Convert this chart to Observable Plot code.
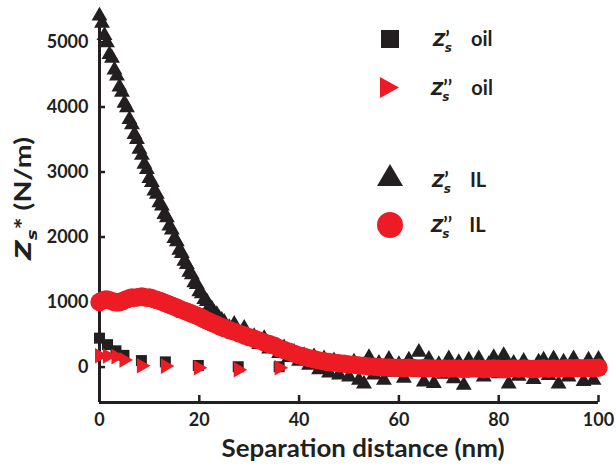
<!DOCTYPE html>
<html><head><meta charset="utf-8">
<script src="https://cdn.jsdelivr.net/npm/d3@7"></script>
<script src="https://cdn.jsdelivr.net/npm/@observablehq/plot@0.6"></script>
<style>
html,body{margin:0;padding:0;background:#fff;}
#wrap{position:relative;width:616px;height:466px;overflow:hidden;}
#legend{position:absolute;left:0;top:0;pointer-events:none;}
</style></head><body><div id="wrap"></div>
<script>
// ---- data ----
const ilDistance = [0,0.5,1,1.5,2,2.5,3,3.5,4,4.5,5,5.5,6,6.5,7,7.5,8,8.5,9,9.5,10,10.5,11,11.5,12,12.5,13,13.5,14,14.5,15,15.5,16,16.5,17,17.5,18,18.5,19,19.5,20,20.5,21,21.5,22,22.5,23,23.5,24,24.5,25,
26,27,28,29,30,31,32,33,34,35,36,37,38,39,40,41,42,43,44,45,46,47,48,49,50,
51,52,53,54,55,56,57,58,59,60,61,62,63,64,65,66,67,68,69,70,71,72,73,74,75,
76,77,78,79,80,81,82,83,84,85,86,87,88,89,90,91,92,93,94,95,96,97,98,99,100];
const ilZ1 = [5400,5290,5100,4990,4810,4750,4570,4480,4310,4230,4060,3990,3810,3730,3580,3500,3350,3260,3120,3040,2900,2840,2710,2660,2530,2480,2350,2300,2170,2110,1980,1930,1800,1750,1630,1580,1460,1420,1300,1270,1160,1130,1040,1010,930,900,830,810,750,720,690,
610,660,520,600,420,470,350,440,280,330,210,300,150,230,90,180,30,160,-40,130,-90,100,-120,40,-150,
80,-200,-260,150,-120,60,-200,120,-80,40,-170,110,-40,230,-230,120,-250,40,-110,130,-180,70,-280,110,-60,
130,-150,40,150,-100,180,-260,60,-140,90,-40,-190,80,110,-130,130,-260,80,-150,130,-70,-220,110,-200,120];
const ilZ2 = [1000,1020,1035,1040,1030,1015,1000,995,1000,1010,1030,1045,1060,1070,1065,1070,1080,1085,1075,1065,1070,1060,1045,1030,1020,1005,990,975,960,945,930,915,895,880,865,850,835,820,805,790,775,755,735,715,700,680,665,650,630,615,600,
570,545,515,490,460,435,410,380,355,330,290,262,235,205,180,158,138,120,103,90,78,68,58,50,40,
35,25,20,10,5,0,-5,-5,-10,-10,-15,-10,-15,-20,-15,-20,-20,-25,-20,-25,-20,-25,-30,-25,-20,
-25,-30,-25,-20,-25,-30,-25,-20,-25,-20,-25,-30,-25,-20,-25,-20,-25,-20,-15,-20,-15,-20,-15,-15,-10];
const oilDistance = [0, 1.6, 3.3, 4.9, 8.4, 13.2, 19.8, 27.8, 36];
const oilZ1 = [445, 345, 250, 180, 100, 80, 25, 5, 5];
const oilZ2 = [175, 170, 160, 110, 20, 15, -10, -40, -10];
const xTicks = [0, 20, 40, 60, 80, 100];
const yTicks = [0, 1000, 2000, 3000, 4000, 5000];
const xDomain = [0, 100];
const yDomain = [-545, 5500];

const ink = "#231f20";
const red = "#ed1c24";
const font = "Lato, 'Liberation Sans', sans-serif";
const italicFont = "'DejaVu Sans', sans-serif";
const il = ilDistance.map((d, i) => ({d, z1: ilZ1[i], z2: ilZ2[i]}));
const oil = oilDistance.map((d, i) => ({d, z1: oilZ1[i], z2: oilZ2[i]}));

const triRight = {draw(ctx, size) {
  const s = Math.sqrt(size * 4 / Math.sqrt(3));
  const h = s * Math.sqrt(3) / 2;
  ctx.moveTo(2 * h / 3, 0); ctx.lineTo(-h / 3, -s / 2); ctx.lineTo(-h / 3, s / 2); ctx.closePath();
}};

const chart = Plot.plot({
  width: 616, height: 466,
  marginLeft: 99, marginRight: 18, marginTop: 9, marginBottom: 64,
  x: {domain: xDomain},
  y: {domain: yDomain},
  style: {fontFamily: font, fontWeight: "bold", fontSize: "18px", color: ink, background: "#fff"},
  marks: [
    Plot.ruleY([yDomain[0]], {stroke: ink, strokeWidth: 3}),
    Plot.ruleX([xDomain[0]], {stroke: ink, strokeWidth: 3}),
    Plot.axisX(xTicks, {tickSize: -7, fill: "none", stroke: ink, strokeWidth: 2.5, label: null}),
    Plot.axisY(yTicks, {tickSize: -6, fill: "none", stroke: ink, strokeWidth: 2.5, label: null}),
    Plot.axisX(xTicks, {tickSize: 0, tickPadding: 11, fill: ink, label: null}),
    Plot.axisY(yTicks, {tickSize: 0, tickPadding: 11, fill: ink, label: null, tickFormat: d => String(d)}),
    Plot.dot(il, {x: "d", y: "z1", symbol: "triangle", r: 5.9, fill: ink}),
    Plot.dot(il, {x: "d", y: "z2", symbol: "circle", r: 9.2, fill: red}),
    Plot.dot(oil, {x: "d", y: "z1", symbol: "square", r: 6.2, fill: ink}),
    Plot.dot(oil, {x: "d", y: "z2", symbol: triRight, r: 5.8, fill: red})
  ]
});
document.getElementById("wrap").appendChild(chart);

const svg = d3.select(chart);
// x label
svg.append("text").attr("x", 363).attr("y", 456.5).attr("text-anchor", "middle")
  .attr("font-size", 25).attr("font-weight", "bold").attr("fill", ink)
  .attr("textLength", 283).attr("lengthAdjust", "spacingAndGlyphs")
  .text("Separation distance (nm)");
// y label
const yl = svg.append("text").attr("transform", "translate(31,198.5) rotate(-90)")
  .attr("text-anchor", "middle").attr("font-size", 22).attr("font-weight", "bold").attr("fill", ink)
  .attr("textLength", 123).attr("lengthAdjust", "spacingAndGlyphs");
yl.append("tspan").attr("font-family", italicFont).attr("font-style", "italic").attr("font-size", 21).text("Z");
yl.append("tspan").attr("font-family", italicFont).attr("font-style", "italic").attr("font-size", 14).attr("dy", 6).text("s");
yl.append("tspan").attr("dy", -6).text("* (N/m)");

// legend overlay
const leg = d3.select("#wrap").append("svg").attr("id", "legend").attr("width", 616).attr("height", 466)
  .style("font-family", font);
leg.append("rect").attr("x", 381).attr("y", 30).attr("width", 18).attr("height", 18).attr("fill", ink);
leg.append("path").attr("d", "M399,87.5L380,77L380,98Z").attr("fill", red);
leg.append("path").attr("d", "M390,164L403,186L377,186Z").attr("fill", ink);
leg.append("circle").attr("cx", 390).attr("cy", 225).attr("r", 13).attr("fill", red);
const legendRows = [
  {x: 433, y: 46, prime: "\u2019", word: "oil", gap: 19},
  {x: 431, y: 95, prime: "\u2019\u2019", word: "oil", gap: 22},
  {x: 432, y: 187, prime: "\u2019", word: "IL", gap: 19},
  {x: 431, y: 232, prime: "\u2019\u2019", word: "IL", gap: 20}
];
legendRows.forEach(r => {
  const t = leg.append("text").attr("x", r.x).attr("y", r.y).attr("font-size", 20)
    .attr("font-weight", 700).attr("fill", ink);
  t.append("tspan").attr("font-family", italicFont).attr("font-style", "italic").attr("font-size", 17).text("Z");
  t.append("tspan").attr("dx", 0).text(r.prime);
  t.append("tspan").attr("font-family", italicFont).attr("font-style", "italic").attr("font-size", 12)
    .attr("dx", r.prime.length > 1 ? -10 : -5).attr("dy", 6).text("s");
  t.append("tspan").attr("dx", r.gap).attr("dy", -6).text(r.word);
});
</script></body></html>
